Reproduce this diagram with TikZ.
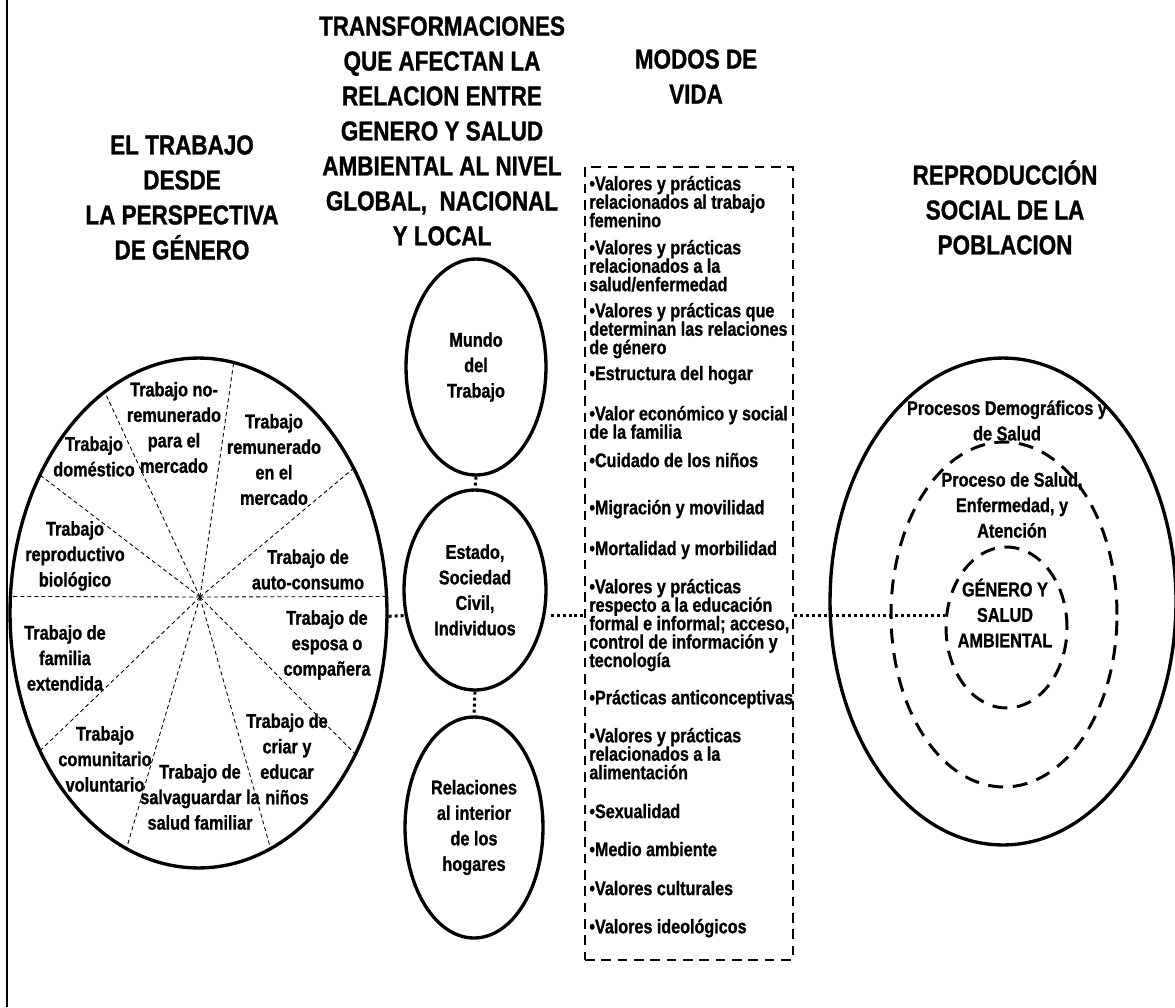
\documentclass[tikz,border=0pt]{standalone}
\usepackage{fontspec}
\setmainfont{Liberation Sans}[FakeStretch=0.82, BoldFeatures={FakeBold=1}]
\usepackage{tikz}
\usetikzlibrary{shapes.geometric}

% fixed line distance inside the nodes
\newcommand{\lineasfijas}{\lineskiplimit-20pt\relax}

\begin{document}
\begin{tikzpicture}[x=0.02cm, y=-0.02cm,
  every node/.style={font=\bfseries, inner sep=0pt},
  titulo/.style={align=center, font={\bfseries\fontsize{15.6}{19.9}\selectfont}},
  etiqueta/.style={align=center, font={\bfseries\fontsize{11.3}{14.5}\selectfont\lineasfijas}},
  elemento/.style={align=left, anchor=north west, font={\bfseries\fontsize{11.2}{10.5}\selectfont\lineasfijas}},
  esfera/.style={ellipse, draw, line width=1.9pt},
  anillo/.style={ellipse, draw, line width=1.7pt, dash pattern=on 8.5pt off 5.5pt},
  radio/.style={line width=0.5pt, dash pattern=on 2.3pt off 1.7pt},
  punto/.style={line width=1.7pt, dash pattern=on 1.7pt off 1.7pt}]

\useasboundingbox (0,0) rectangle (1175,1007);

% Left edge line
\draw[line width=1.1pt] (7,0) -- (7,1007);

% Column titles
\node[titulo] (tit_trabajo) at (182,197.5) {EL TRABAJO\\DESDE\\LA PERSPECTIVA\\DE GÉNERO};
\node[titulo] (tit_transf) at (442,131) {TRANSFORMACIONES\\QUE AFECTAN LA\\RELACION ENTRE\\GENERO Y SALUD\\AMBIENTAL AL NIVEL\\GLOBAL,~ NACIONAL\\Y LOCAL};
\node[titulo] (tit_modos) at (696,76.5) {MODOS DE\\VIDA};
\node[titulo] (tit_repro) at (1005,207.5) {REPRODUCCIÓN\\SOCIAL DE LA\\POBLACION};

% Work ellipse cut in ten parts
\node[esfera, minimum width=7.54cm, minimum height=10.2cm] (trabajo) at (198.5,613) {};
\coordinate (centro) at (200,597);
\foreach \a in {5,43,82,113,139,175,221,253,287,318} {
    \draw[radio] (centro) -- (trabajo.\a);
}

\node[etiqueta] (noremunerado) at (174,427.5) {Trabajo no-\\remunerado\\para el\\mercado};
\node[etiqueta] (domestico) at (94,456.5) {Trabajo\\doméstico};
\node[etiqueta] (remunerado) at (274,459.5) {Trabajo\\remunerado\\en el\\mercado};
\node[etiqueta] (reproductivo) at (75,556) {Trabajo\\reproductivo\\biológico};
\node[etiqueta] (autoconsumo) at (308,569.5) {Trabajo de\\auto-consumo};
\node[etiqueta] (esposa) at (327,645) {Trabajo de\\esposa o\\compañera};
\node[etiqueta] (familia) at (65,658) {Trabajo de\\familia\\extendida};
\node[etiqueta] (comunitario) at (105,759) {Trabajo\\comunitario\\voluntario};
\node[etiqueta] (ninos) at (287,759) {Trabajo de\\criar y\\educar\\niños};
\node[etiqueta] (salvaguardar) at (200,797) {Trabajo de\\salvaguardar la\\salud familiar};

% Middle column
\node[esfera, etiqueta, minimum width=2.8cm, minimum height=4.32cm] (mundo) at (476,367) {Mundo\\del\\Trabajo};
\node[esfera, etiqueta, minimum width=2.84cm, minimum height=4cm] (estado) at (475,590) {Estado,\\Sociedad\\Civil,\\Individuos};
\node[esfera, etiqueta, minimum width=2.76cm, minimum height=4.42cm] (relaciones) at (474,827.5) {Relaciones\\al interior\\de los\\hogares};

% List of ways of life
\node[draw, line width=1pt, dash pattern=on 5.5pt off 3.8pt, minimum width=4.16cm, minimum height=15.86cm] (lista) at (689,563.5) {};
\foreach \y/\txt [count=\i] in {
    183/{•Valores y prácticas\\relacionados al trabajo\\femenino},
    247/{•Valores y prácticas\\relacionados a la\\salud/enfermedad},
    310/{•Valores y prácticas que\\determinan las relaciones\\de género},
    373/{•Estructura del hogar},
    413/{•Valor económico y social\\de la familia},
    460/{•Cuidado de los niños},
    507/{•Migración y movilidad},
    548/{•Mortalidad y morbilidad},
    586/{•Valores y prácticas\\respecto a la educación\\formal e informal; acceso,\\control de información y\\tecnología},
    697/{•Prácticas anticonceptivas},
    735/{•Valores y prácticas\\relacionados a la\\alimentación},
    811/{•Sexualidad},
    849/{•Medio ambiente},
    888/{•Valores culturales},
    926/{•Valores ideológicos}} {
    \node[elemento] (item\i) at (589,\y-7.5) {\txt};
}

% Social reproduction
\node[esfera, minimum width=6.92cm, minimum height=9.74cm] (poblacion) at (1003,601.5) {};
\node[anillo, minimum width=4.52cm, minimum height=6.9cm] (salud) at (1004,614.5) {};
\node[anillo, minimum width=2.42cm, minimum height=3.22cm] (genero) at (1006.5,627.5) {};
\node[etiqueta] (demograficos) at (1007,420.5) {Procesos Demográficos y\\de Salud};
\node[etiqueta] (enfermedad) at (1012,505) {Proceso de Salud,\\Enfermedad, y\\Atención};
\node[etiqueta] (ambiental) at (1005,613) {GÉNERO Y\\SALUD\\AMBIENTAL};

% Dotted links
\draw[punto] (mundo.south) -- (estado.north);
\draw[punto] (estado.south) -- (relaciones.north);
\draw[punto] (trabajo.-1.5) -- (estado.200);
\draw[punto, shorten <=3pt] (estado.-20) -- (estado.-20 -| lista.west);
\draw[punto] (estado.-20 -| lista.east) -- (estado.-20 -| genero.west);

\end{tikzpicture}
\end{document}
